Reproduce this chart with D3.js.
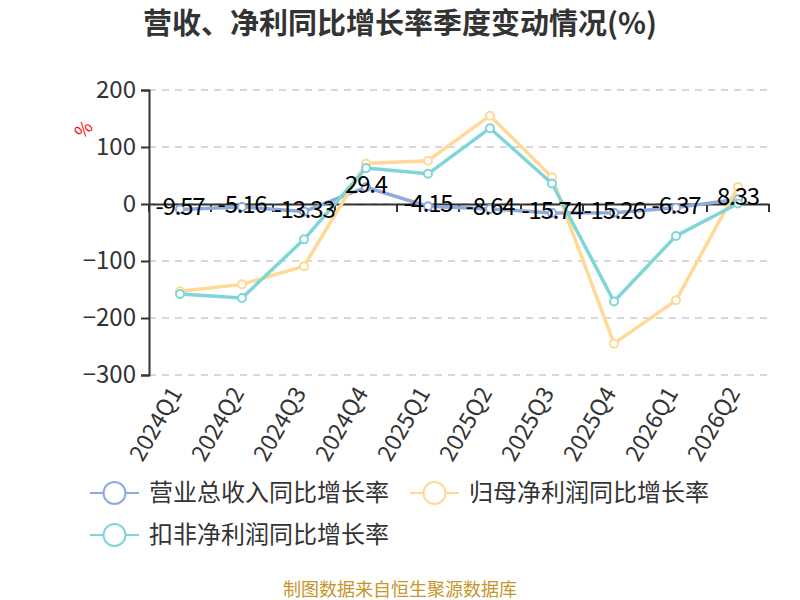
<!DOCTYPE html>
<html>
<head>
<meta charset="utf-8">
<script src="https://cdn.jsdelivr.net/npm/d3@7"></script>
<style>
body { margin: 0; background: #fff; }
text { font-family: "Noto Sans CJK SC", "Liberation Sans", sans-serif; }
</style>
</head>
<body>
<div id="chart"></div>
<script>
var quarters = ['2024Q1', '2024Q2', '2024Q3', '2024Q4', '2025Q1', '2025Q2', '2025Q3', '2025Q4', '2026Q1', '2026Q2'];
var revenueGrowth = [-9.57, -5.16, -13.33, 29.4, -4.15, -8.64, -15.74, -15.26, -6.37, 8.33];
var netProfitGrowth = [-153, -141, -109, 71, 76, 155, 47, -245, -169, 30];
var deductedProfitGrowth = [-158, -165, -62, 63, 53, 133, 36, -171, -56, 1];
var yTicks = [200, 100, 0, -100, -200, -300];
var seriesNames = ['营业总收入同比增长率', '归母净利润同比增长率', '扣非净利润同比增长率'];
var seriesColors = ['#8faadc', '#ffd995', '#80d5d8'];

var svg = d3.select('#chart').append('svg').attr('width', 800).attr('height', 600);

var plotLeft = 149, plotRight = 769, plotTop = 90, plotBottom = 375;

var x = d3.scaleBand().domain(quarters).range([plotLeft, plotRight]);
var y = d3.scaleLinear().domain([-300, 200]).range([plotBottom, plotTop]);

// title
svg.append('text')
    .attr('x', 400).attr('y', 34)
    .attr('text-anchor', 'middle')
    .attr('font-size', 29).attr('font-weight', 'bold')
    .attr('fill', '#333')
    .text('营收、净利同比增长率季度变动情况(%)');

// grid
svg.append('g').selectAll('line')
    .data(yTicks)
    .enter().append('line')
    .attr('x1', plotLeft).attr('x2', plotRight)
    .attr('y1', function(d) { return y(d); })
    .attr('y2', function(d) { return y(d); })
    .attr('stroke', '#ccc').attr('stroke-width', 1.5)
    .attr('stroke-dasharray', '7,6');

// y axis
var yAxis = svg.append('g')
    .attr('transform', 'translate(' + plotLeft + ',0)')
    .call(d3.axisLeft(y).tickValues(yTicks).tickSize(8).tickPadding(5));
yAxis.select('.domain').attr('stroke', '#333').attr('stroke-width', 2);
yAxis.selectAll('.tick line').attr('stroke', '#333').attr('stroke-width', 2);
yAxis.selectAll('.tick text')
    .attr('font-size', 24).attr('fill', '#333')
    .attr('font-family', '"Open Sans", "Liberation Sans", sans-serif');

// unit
svg.append('text')
    .attr('transform', 'translate(88,134) rotate(-45)')
    .attr('text-anchor', 'middle')
    .attr('font-size', 18).attr('fill', 'red')
    .text('%');

// x axis at zero
var xAxis = svg.append('g')
    .attr('transform', 'translate(0,' + y(0) + ')')
    .call(d3.axisBottom(x).tickSize(0).tickFormat(''));
xAxis.select('.domain').attr('stroke', '#333').attr('stroke-width', 2);
svg.append('g').selectAll('line')
    .data(d3.range(quarters.length + 1))
    .enter().append('line')
    .attr('x1', function(i) { return plotLeft + i * x.bandwidth(); })
    .attr('x2', function(i) { return plotLeft + i * x.bandwidth(); })
    .attr('y1', y(0)).attr('y2', y(0) + 8)
    .attr('stroke', '#333').attr('stroke-width', 2);

// category labels at the bottom
svg.append('g').selectAll('text')
    .data(quarters)
    .enter().append('text')
    .attr('transform', function(d) {
        return 'translate(' + (x(d) + x.bandwidth() / 2 - 4) + ',' + (plotBottom + 14) + ') rotate(-60)';
    })
    .attr('text-anchor', 'end')
    .attr('dy', '0.35em')
    .attr('font-size', 23).attr('fill', '#333')
    .attr('font-family', '"Open Sans", "Liberation Sans", sans-serif')
    .text(function(d) { return d; });

var line = d3.line()
    .x(function(d, i) { return x(quarters[i]) + x.bandwidth() / 2; })
    .y(function(d) { return y(d); });

var allSeries = [revenueGrowth, netProfitGrowth, deductedProfitGrowth];

allSeries.forEach(function(data, s) {
    var g = svg.append('g');
    g.append('path')
        .attr('d', line(data))
        .attr('fill', 'none')
        .attr('stroke', seriesColors[s])
        .attr('stroke-width', 3.5)
        .attr('stroke-linejoin', 'round');
    g.selectAll('circle')
        .data(data)
        .enter().append('circle')
        .attr('cx', function(d, i) { return x(quarters[i]) + x.bandwidth() / 2; })
        .attr('cy', function(d) { return y(d); })
        .attr('r', 4)
        .attr('fill', '#fff')
        .attr('stroke', seriesColors[s])
        .attr('stroke-width', 2);
});

// revenue labels
svg.append('g').selectAll('text')
    .data(revenueGrowth)
    .enter().append('text')
    .attr('x', function(d, i) { return x(quarters[i]) + x.bandwidth() / 2; })
    .attr('y', function(d) { return y(d) + 6; })
    .attr('text-anchor', 'middle')
    .attr('font-size', 24).attr('fill', '#000')
    .attr('font-family', '"Open Sans", "Liberation Sans", sans-serif')
    .attr('letter-spacing', -1.2)
    .text(function(d) { return d; });

// legend
var legendItems = [
    { name: seriesNames[0], color: seriesColors[0], x: 90, y: 493 },
    { name: seriesNames[1], color: seriesColors[1], x: 410, y: 493 },
    { name: seriesNames[2], color: seriesColors[2], x: 90, y: 535 }
];
var legend = svg.append('g').selectAll('g')
    .data(legendItems)
    .enter().append('g')
    .attr('transform', function(d) { return 'translate(' + d.x + ',' + d.y + ')'; });
legend.append('line')
    .attr('x1', 0).attr('x2', 49)
    .attr('stroke', function(d) { return d.color; })
    .attr('stroke-width', 2);
legend.append('circle')
    .attr('cx', 24.5).attr('r', 11)
    .attr('fill', '#fff')
    .attr('stroke', function(d) { return d.color; })
    .attr('stroke-width', 2);
legend.append('text')
    .attr('x', 59).attr('dy', '0.35em')
    .attr('font-size', 24).attr('fill', '#333')
    .text(function(d) { return d.name; });

// source
svg.append('text')
    .attr('x', 400).attr('y', 596)
    .attr('text-anchor', 'middle')
    .attr('font-size', 18).attr('fill', '#c8952a')
    .text('制图数据来自恒生聚源数据库');
</script>
</body>
</html>
